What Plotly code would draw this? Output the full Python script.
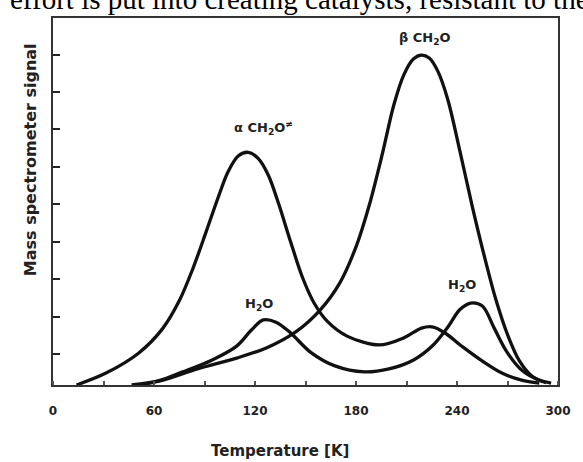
import plotly.graph_objects as go

# Temperature [K] and signal (arbitrary units, 1 unit = one y tick spacing)
alpha_T = [14.0, 31.5, 50.8, 65.0, 75.0, 83.0, 91.0, 98.0, 104.0, 110.0, 116.0, 122.0,
           128.0, 134.0, 141.0, 148.0, 155.0, 163.0, 175.0, 193.8, 208.4, 218.9, 225.9,
           232.9, 243.4, 255.1, 266.7, 278.4, 288.9]
alpha_S = [0.0, 0.32, 0.85, 1.5, 2.25, 3.1, 4.1, 5.0, 5.7, 6.12, 6.22, 6.05,
           5.6, 4.85, 3.85, 2.9, 2.2, 1.7, 1.3, 1.07, 1.26, 1.52, 1.55,
           1.39, 1.02, 0.64, 0.32, 0.13, 0.05]

beta_T = [50.8, 65.4, 85.8, 109.1, 126.7, 144.2, 158.8, 170.4, 180.4, 187.9, 195.5, 202.5,
          208.4, 214.2, 218.9, 223.5, 228.8, 234.6, 241.6, 249.2, 256.2, 263.0, 270.0,
          277.0, 285.0, 293.0]
beta_S = [0.0, 0.13, 0.43, 0.72, 0.99, 1.42, 2.01, 2.73, 3.74, 4.81, 6.15, 7.49,
          8.29, 8.72, 8.82, 8.74, 8.37, 7.62, 6.28, 4.75, 3.45, 2.30, 1.35,
          0.65, 0.22, 0.06]

h2o_T = [46.7, 62.5, 77.0, 94.6, 109.1, 117.9, 124.9, 132.5, 141.2, 152.9, 167.5, 185.0,
         199.6, 214.2, 225.9, 234.6, 241.6, 248.1, 255.1, 262.1, 269.7, 278.4, 287.2, 295.9]
h2o_S = [0.0, 0.11, 0.35, 0.67, 1.04, 1.47, 1.74, 1.68, 1.39, 0.88, 0.51, 0.35,
         0.43, 0.67, 1.07, 1.55, 2.01, 2.19, 2.11, 1.52, 0.88, 0.40, 0.16, 0.05]

x_ticks = [0, 60, 120, 180, 240, 300]
x_ticktext = ["0", "60", "120", "180", "240", "300"]

FONT = "DejaVu Sans"
TXT = "#222222"
LINE = "#111111"

fig = go.Figure()
for T, S in [(alpha_T, alpha_S), (beta_T, beta_S), (h2o_T, h2o_S)]:
    fig.add_trace(go.Scatter(x=T, y=S, mode="lines",
                             line=dict(color=LINE, width=3.3, shape="spline", smoothing=0.9),
                             showlegend=False, hoverinfo="skip"))

label_font = dict(family=FONT, size=13, color=TXT, weight="bold")
fig.add_annotation(x=221.2, y=9.25, text="β CH<sub>2</sub>O", showarrow=False, font=label_font)
fig.add_annotation(x=125.0, y=6.87, text="α CH<sub>2</sub>O<sup>≠</sup>", showarrow=False, font=label_font)
fig.add_annotation(x=122.6, y=2.14, text="H<sub>2</sub>O", showarrow=False, font=label_font)
fig.add_annotation(x=242.8, y=2.65, text="H<sub>2</sub>O", showarrow=False, font=label_font)

# axis titles
fig.add_annotation(xref="paper", yref="paper", x=0.45, y=-0.18, yanchor="middle",
                   text="Temperature [K]", showarrow=False,
                   font=dict(family=FONT, size=15, color=TXT, weight="bold"))
fig.add_annotation(xref="paper", yref="paper", x=-0.068, y=0.613, textangle=-90,
                   text="Mass spectrometer signal", showarrow=False,
                   font=dict(family=FONT, size=16, color=TXT, weight="bold"))

# cropped running text of the page above the figure
fig.add_annotation(xref="paper", yref="paper", x=-0.09, xanchor="left", y=1, yanchor="bottom",
                   yshift=1, text="effort is put into creating catalysts, resistant to the",
                   showarrow=False, font=dict(family="Liberation Serif", size=29, color="#000"))

fig.update_layout(
    width=583, height=462,
    margin=dict(l=53, r=16, t=18, b=77),
    paper_bgcolor="white", plot_bgcolor="white",
    xaxis=dict(range=[0, 300], tickvals=x_ticks, ticktext=x_ticktext, ticks="",
               showgrid=False, zeroline=False, showline=True, linecolor="#333",
               linewidth=2, mirror=True, ticklabelstandoff=14,
               tickfont=dict(family=FONT, size=12, color=TXT, weight="bold"),
               minor=dict(ticks="inside", tickmode="linear", tick0=0, dtick=30,
                          ticklen=4, tickwidth=1.5, tickcolor="#555")),
    yaxis=dict(range=[0, 9.81], tickmode="linear", tick0=0.83, dtick=1,
               ticks="inside", ticklen=7, tickwidth=2, tickcolor="#222",
               showticklabels=False, showgrid=False, zeroline=False,
               showline=True, linecolor="#333", linewidth=2, mirror=True),
)

fig.write_html("out.html", config={"displayModeBar": False},
               post_script="document.body.style.margin='0';document.body.style.overflow='hidden';")
